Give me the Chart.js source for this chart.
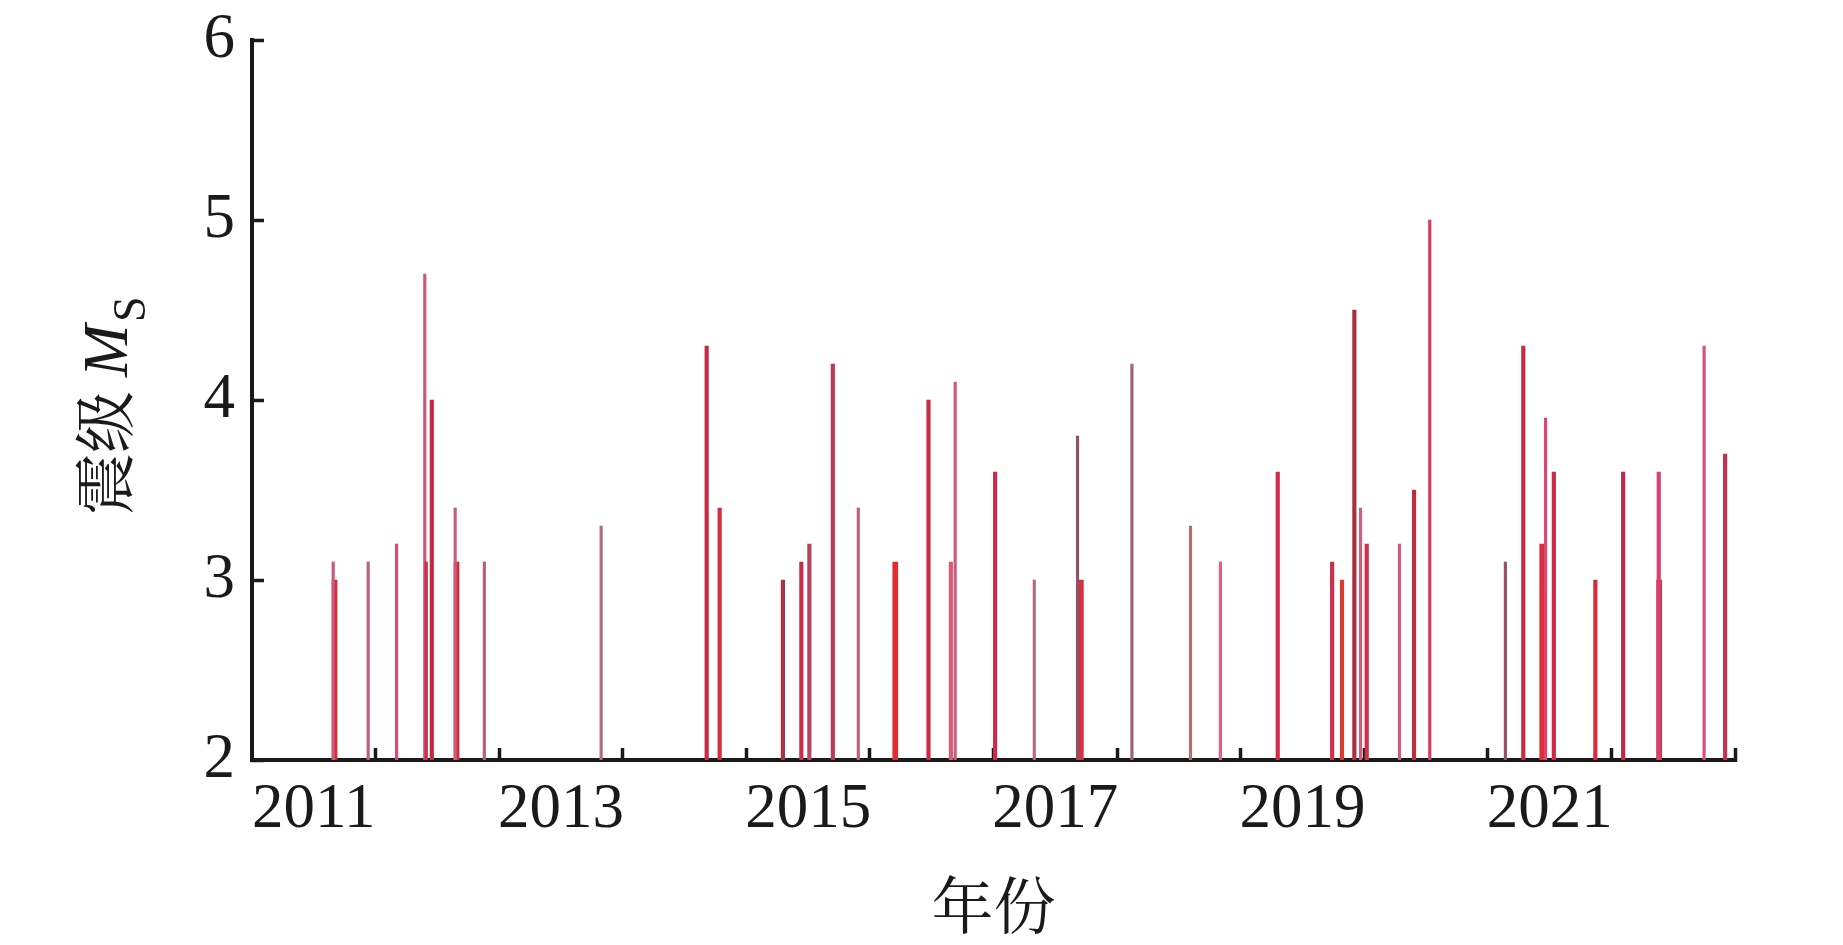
<!DOCTYPE html>
<html>
<head>
<meta charset="utf-8">
<script src="https://cdn.jsdelivr.net/npm/chart.js@4.4.1/dist/chart.umd.min.js"></script>
<style>
  html, body { margin: 0; padding: 0; background: #ffffff; }
  #wrap { width: 1843px; height: 945px; position: relative; }
</style>
</head>
<body>
<div id="wrap"><canvas id="c" width="1843" height="945"></canvas></div>
<script>
// ---- data (decimal year of event, magnitude Ms) ----
const eventYears = [
  2011.657, 2011.668, 2011.940, 2012.170, 2012.398, 2012.410, 2012.455, 2012.644, 2012.655, 2012.880,
  2013.825, 2014.679, 2014.784, 2015.296, 2015.445, 2015.510, 2015.700, 2015.906, 2016.205, 2016.474,
  2016.655, 2016.690, 2017.013, 2017.330, 2017.680, 2017.707, 2018.120, 2018.594, 2018.836, 2019.300,
  2019.740, 2019.820, 2019.920, 2019.970, 2020.020, 2020.285, 2020.403, 2020.530, 2021.142, 2021.287,
  2021.440, 2021.456, 2021.467, 2021.534, 2021.870, 2022.095, 2022.383, 2022.386, 2022.750, 2022.920
];
const magnitudes = [
  3.1, 3.0, 3.1, 3.2, 4.7, 3.1, 4.0, 3.4, 3.1, 3.1,
  3.3, 4.3, 3.4, 3.0, 3.1, 3.2, 4.2, 3.4, 3.1, 4.0,
  3.1, 4.1, 3.6, 3.0, 3.8, 3.0, 4.2, 3.3, 3.1, 3.6,
  3.1, 3.0, 4.5, 3.4, 3.2, 3.2, 3.5, 5.0, 3.1, 4.3,
  3.2, 3.0, 3.9, 3.6, 3.0, 3.6, 3.6, 3.0, 4.3, 3.7
];
const lineWeights = [
  'thin','thick','thin','thin','thin','thin','mid','thin','thick','thin',
  'thin','mid','mid','mid','mid','mid','mid','thin','thick','mid',
  'mid','thin','mid','thin','thin','thick','thin','thin','thin','mid',
  'mid','mid','mid','thin','mid','thin','mid','thin','thin','mid',
  'thick','thick','thin','mid','mid','mid','mid','thick','thin','mid'
];
const lineColors = [
  '#cc5a78','#d42c38','#b86478','#dc4c70','#c8587a','#c83048','#c8283e','#cc5c7a','#d42a38','#b46474',
  '#b06c7a','#c82a42','#d42c40','#a83444','#cc2e48','#b8445c','#b83c56','#c2607a','#de2c30','#c82a46',
  '#d0607a','#d05a7a','#d02a4a','#b86a7a','#8c5262','#d83040','#a06272','#a87272','#e0607e','#d02a4c',
  '#d0304a','#d83c30','#a8303e','#d0607a','#d03048','#d05a80','#b8303e','#d83c60','#985068','#c82a42',
  '#d83040','#e03030','#e04472','#d02848','#d82a38','#c02a46','#d84272','#d02a38','#d8507a','#c83050'
];
const xTickLabels = ['2011', '2013', '2015', '2017', '2019', '2021'];
const yTickValues = [2, 3, 4, 5, 6];
const xTitle = '年份';
const yTitleCJK = '震级';
const yTitleVar = 'M';
const yTitleSub = 'S';

// ---- build datasets (one per line weight) ----
const weightGroups = [
  { key: 'thin', thickness: 2.5 },
  { key: 'mid', thickness: 3.5 },
  { key: 'thick', thickness: 5 }
];
const datasets = weightGroups.map(g => {
  const idx = eventYears.map((_, i) => i).filter(i => lineWeights[i] === g.key);
  return {
    data: idx.map(i => ({ x: eventYears[i], y: [2, magnitudes[i]] })),
    backgroundColor: idx.map(i => lineColors[i]),
    barThickness: g.thickness,
    grouped: false,
    borderWidth: 0
  };
});

const AXIS = '#1a1a1a';
const serif = '"Liberation Serif", "Times New Roman", serif';
const cjk = '"Noto Serif CJK SC", "Noto Sans CJK SC", serif';

const yTitlePlugin = {
  id: 'yTitle',
  afterDraw(chart) {
    const ctx = chart.ctx;
    ctx.save();
    ctx.fillStyle = '#1a1a1a';
    ctx.rotate(-Math.PI / 2);
    // local (lx, ly) -> screen (ly, -lx)
    ctx.textAlign = 'left';
    ctx.textBaseline = 'middle';
    ctx.font = '62px ' + cjk;
    ctx.fillText(yTitleCJK, -515, 104);
    ctx.textBaseline = 'alphabetic';
    ctx.font = 'italic 63px ' + serif;
    ctx.fillText(yTitleVar, -377, 127);
    ctx.font = '46px ' + serif;
    ctx.fillText(yTitleSub, -322, 145);
    ctx.restore();
  }
};

function clearScalePadding(s) {
  s.paddingTop = 0; s.paddingBottom = 0; s.paddingLeft = 0; s.paddingRight = 0;
}

new Chart(document.getElementById('c'), {
  type: 'bar',
  data: { datasets },
  plugins: [yTitlePlugin],
  options: {
    responsive: false,
    animation: false,
    devicePixelRatio: 1,
    layout: { padding: { left: 0, right: 108, top: 40, bottom: 0 } },
    plugins: { legend: { display: false }, tooltip: { enabled: false } },
    scales: {
      x: {
        type: 'linear',
        min: 2011,
        max: 2023,
        offset: false,
        z: 1,
        afterBuildTicks: s => {
          const t = [];
          for (let v = 2011; v <= 2023; v += 0.5) t.push({ value: v });
          s.ticks = t;
        },
        afterFit: s => { s.height = 185; clearScalePadding(s); },
        ticks: {
          autoSkip: false,
          maxRotation: 0,
          minRotation: 0,
          padding: 25,
          color: '#1a1a1a',
          font: { family: serif, size: 63 },
          callback: v => {
            const f = Math.floor(v);
            return (v - f === 0.5 && xTickLabels.includes(String(f))) ? String(f) : '';
          }
        },
        grid: {
          offset: false,
          drawOnChartArea: false,
          drawTicks: true,
          tickLength: -12,
          tickWidth: 3.5,
          tickColor: ctx => (ctx.tick && Number.isInteger(ctx.tick.value) && ctx.tick.value > 2011) ? AXIS : 'rgba(0,0,0,0)'
        },
        border: { display: true, color: AXIS, width: 4 },
        title: {
          display: true,
          text: xTitle,
          color: '#1a1a1a',
          font: { family: cjk, size: 62 },
          padding: { top: 0, bottom: 2 }
        }
      },
      y: {
        min: 2,
        max: 6,
        z: 1,
        afterBuildTicks: s => { s.ticks = yTickValues.map(v => ({ value: v })); },
        afterFit: s => { s.width = 252; clearScalePadding(s); },
        ticks: {
          padding: 29,
          color: '#1a1a1a',
          font: { family: serif, size: 63 }
        },
        grid: {
          drawOnChartArea: false,
          drawTicks: true,
          tickLength: -12,
          tickWidth: 3.5,
          tickColor: AXIS
        },
        border: { display: true, color: AXIS, width: 4 }
      }
    }
  }
});
</script>
</body>
</html>
